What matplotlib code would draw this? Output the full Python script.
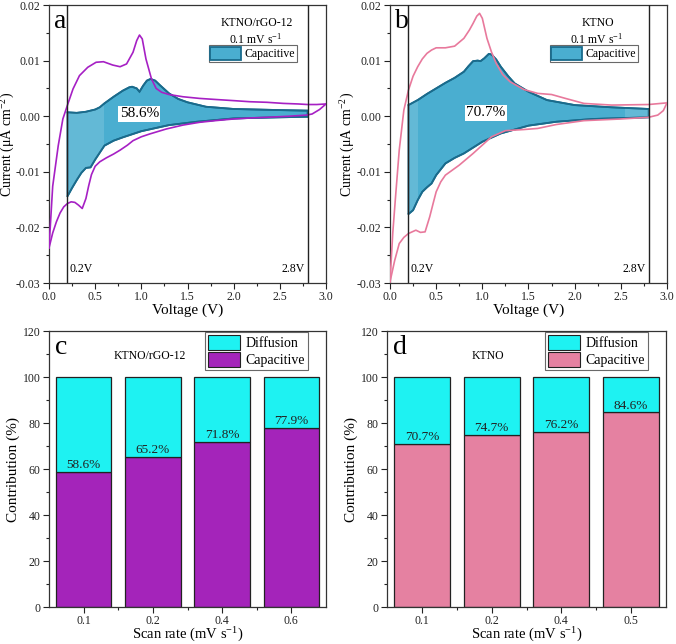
import numpy as np
import matplotlib
matplotlib.use("Agg")
import matplotlib.pyplot as plt
from matplotlib.patches import Patch, Polygon
from matplotlib.ticker import MultipleLocator

plt.rcParams['font.family'] = ['Liberation Serif', 'DejaVu Serif']
plt.rcParams['mathtext.fontset'] = 'custom'
plt.rcParams['mathtext.rm'] = 'Liberation Serif'
plt.rcParams['mathtext.it'] = 'Liberation Serif:italic'

# ---------------- Data: panel a (KTNO/rGO-12) ----------------
a_up_v = [0.0, 0.04, 0.1, 0.15, 0.2, 0.26, 0.33, 0.42, 0.51, 0.59, 0.69, 0.77, 0.84, 0.91, 0.95, 0.98, 1.01, 1.05, 1.11, 1.16, 1.22, 1.3, 1.45, 1.63, 1.81, 2.0, 2.18, 2.36, 2.54, 2.7, 2.8, 2.9, 3.0]
a_up_i = [-0.0237, -0.0126, -0.0053, -0.0005, 0.0020, 0.0049, 0.0073, 0.0088, 0.0097, 0.0098, 0.0092, 0.0089, 0.0094, 0.0115, 0.0136, 0.0146, 0.0139, 0.0103, 0.0067, 0.0050, 0.0043, 0.0039, 0.0035, 0.0032, 0.0030, 0.0028, 0.0026, 0.0025, 0.0023, 0.0022, 0.0021, 0.0021, 0.0022]
a_lo_v = [0.0, 0.04, 0.08, 0.12, 0.16, 0.2, 0.24, 0.28, 0.32, 0.36, 0.4, 0.43, 0.46, 0.5, 0.55, 0.62, 0.7, 0.77, 0.85, 0.91, 1.0, 1.09, 1.27, 1.45, 1.63, 1.8, 2.0, 2.2, 2.36, 2.6, 2.79, 2.85, 2.93, 3.0]
a_lo_i = [-0.0237, -0.0210, -0.0190, -0.0174, -0.0163, -0.0157, -0.0154, -0.0155, -0.0160, -0.0166, -0.0148, -0.0125, -0.0105, -0.0090, -0.0082, -0.0075, -0.0068, -0.0061, -0.0052, -0.0044, -0.0037, -0.0032, -0.0023, -0.0016, -0.0011, -0.0008, -0.0005, -0.0003, -0.0002, 0.0000, 0.0002, 0.0004, 0.0012, 0.0022]
a_cap_up_v = [0.2, 0.3, 0.4, 0.5, 0.55, 0.6, 0.7, 0.8, 0.87, 0.9, 0.95, 0.98, 1.02, 1.06, 1.1, 1.15, 1.2, 1.3, 1.4, 1.5, 1.7, 2.0, 2.5, 2.8]
a_cap_up_i = [0.0007, 0.0006, 0.0008, 0.0012, 0.0016, 0.0023, 0.0035, 0.0046, 0.0052, 0.0053, 0.0050, 0.0044, 0.0055, 0.0064, 0.0067, 0.0064, 0.0056, 0.0041, 0.0031, 0.0025, 0.0017, 0.0013, 0.0011, 0.0010]
a_cap_lo_v = [0.2, 0.25, 0.3, 0.35, 0.4, 0.45, 0.5, 0.6, 0.7, 0.8, 1.0, 1.3, 1.6, 2.0, 2.5, 2.8]
a_cap_lo_i = [-0.0144, -0.0129, -0.0115, -0.0102, -0.0093, -0.0092, -0.0078, -0.0053, -0.0044, -0.0038, -0.0027, -0.0016, -0.0010, -0.0004, -0.0002, -0.0001]

# ---------------- Data: panel b (KTNO) ----------------
b_up_v = [0.0, 0.03, 0.06, 0.1, 0.15, 0.2, 0.25, 0.3, 0.35, 0.4, 0.45, 0.5, 0.6, 0.7, 0.8, 0.86, 0.9, 0.94, 0.97, 1.0, 1.05, 1.1, 1.15, 1.22, 1.3, 1.45, 1.6, 1.75, 1.9, 2.1, 2.4, 2.8, 3.0]
b_up_i = [-0.0298, -0.0210, -0.0145, -0.0061, 0.0011, 0.0047, 0.0072, 0.0089, 0.0103, 0.0113, 0.0119, 0.0123, 0.0123, 0.0126, 0.0140, 0.0155, 0.0167, 0.0180, 0.0185, 0.0176, 0.0140, 0.0115, 0.0095, 0.0075, 0.0062, 0.0048, 0.0041, 0.0039, 0.0032, 0.0023, 0.0020, 0.0021, 0.0024]
b_lo_v = [0.0, 0.05, 0.1, 0.15, 0.2, 0.28, 0.33, 0.38, 0.43, 0.47, 0.5, 0.55, 0.6, 0.75, 0.9, 1.0, 1.1, 1.25, 1.45, 1.6, 1.8, 2.1, 2.5, 2.8, 2.9, 2.96, 3.0]
b_lo_i = [-0.0298, -0.0260, -0.0229, -0.0218, -0.0211, -0.0205, -0.0209, -0.0208, -0.0181, -0.0155, -0.0136, -0.0118, -0.0106, -0.0088, -0.0067, -0.0052, -0.0037, -0.0026, -0.0024, -0.0022, -0.0015, -0.0008, -0.0005, -0.0002, 0.0002, 0.0010, 0.0024]
b_cap_up_v = [0.2, 0.3, 0.4, 0.5, 0.6, 0.7, 0.8, 0.85, 0.9, 0.95, 0.98, 1.02, 1.07, 1.1, 1.15, 1.2, 1.28, 1.35, 1.5, 1.7, 2.0, 2.4, 2.8]
b_cap_up_i = [0.0020, 0.0029, 0.0040, 0.0050, 0.0060, 0.0069, 0.0080, 0.0090, 0.0099, 0.0100, 0.0099, 0.0104, 0.0112, 0.0111, 0.0102, 0.0089, 0.0072, 0.0059, 0.0044, 0.0029, 0.0020, 0.0016, 0.0013]
b_cap_lo_v = [0.2, 0.25, 0.3, 0.35, 0.4, 0.45, 0.5, 0.6, 0.7, 0.8, 1.0, 1.2, 1.5, 1.8, 2.2, 2.8]
b_cap_lo_i = [-0.0176, -0.0169, -0.0151, -0.0136, -0.0128, -0.0121, -0.0106, -0.0085, -0.0075, -0.0067, -0.0046, -0.0031, -0.0017, -0.0010, -0.0005, -0.0002]

# ---------------- Data: bar panels ----------------
c_rates = ['0.1', '0.2', '0.4', '0.6']
c_cap = [58.6, 65.2, 71.8, 77.9]
d_rates = ['0.1', '0.2', '0.4', '0.5']
d_cap = [70.7, 74.7, 76.2, 84.6]

W, H = 676, 644
fig = plt.figure(figsize=(W / 100, H / 100), dpi=100)

def px_axes(l, t, r, b):
    return fig.add_axes([l / W, 1 - b / H, (r - l) / W, (b - t) / H])

ax_a = px_axes(49, 5, 326, 283)
ax_b = px_axes(390, 5, 667, 283)
ax_c = px_axes(49, 331, 326, 607)
ax_d = px_axes(387, 331, 666, 607)

FILL = '#4aaed0'
EDGE = '#1a6b8c'
SPINE = '#333333'

def style_axes(ax):
    for s in ax.spines.values():
        s.set_color(SPINE)
        s.set_linewidth(0.9)
    ax.tick_params(which='both', direction='out', top=False, right=False,
                   labelsize=8.5, colors='#222222', width=0.8, pad=2)
    ax.tick_params(which='major', length=4)
    ax.tick_params(which='minor', length=2)

def cv_panel(ax, uv, ui, lv, li, cuv, cui, clv, cli, color, letter, sample, pct, pct_xy, light_spans, ylab_x):
    style_axes(ax)
    verts = list(zip(cuv, cui)) + list(zip(clv[::-1], cli[::-1]))
    poly = Polygon(verts, closed=True, facecolor=FILL, edgecolor=EDGE, lw=1.3, zorder=2)
    ax.add_patch(poly)
    for (x0, x1) in light_spans:
        sp = ax.axvspan(x0, x1, color='white', alpha=0.14, lw=0, zorder=2.5)
        sp.set_clip_path(poly)
    ax.plot(cuv, cui, color=EDGE, lw=1.3, zorder=3)
    ax.plot(clv, cli, color=EDGE, lw=1.3, zorder=3)
    ax.plot(uv, ui, color=color, lw=1.2, zorder=4)
    ax.plot(lv, li, color=color, lw=1.2, zorder=4)
    ax.axvline(0.2, color='#222222', lw=1.0, zorder=5)
    ax.axvline(2.8, color='#222222', lw=1.0, zorder=5)
    ax.set_xlim(0, 3.0)
    ax.set_ylim(-0.03, 0.02)
    ax.xaxis.set_minor_locator(MultipleLocator(0.25))
    ax.yaxis.set_minor_locator(MultipleLocator(0.005))
    ax.set_yticks([-0.03, -0.02, -0.01, 0.0, 0.01, 0.02])
    ax.set_yticklabels(['-0.03', '-0.02', '-0.01', '0.00', '0.01', '0.02'])
    ax.set_xticks([0, 0.5, 1.0, 1.5, 2.0, 2.5, 3.0])
    ax.set_xticklabels(['0.0', '0.5', '1.0', '1.5', '2.0', '2.5', '3.0'])
    ax.set_xlabel('Voltage (V)', fontsize=11, labelpad=0)
    ax.set_ylabel(r'Current ($\mathregular{\mu}$A cm$^{\mathregular{-2}}$)', fontsize=10)
    ax.yaxis.set_label_coords(ylab_x, 0.5)
    ax.text(0.018, 0.985, letter, transform=ax.transAxes, fontsize=20, va='top', ha='left', zorder=6)
    ax.text(0.75, 0.935, sample, transform=ax.transAxes, fontsize=8.5, ha='center', va='center')
    ax.text(0.745, 0.875, r'0.1 mV s$^{\mathregular{-1}}$', transform=ax.transAxes, fontsize=8.5, ha='center', va='center')
    ax.text(pct_xy[0], pct_xy[1], pct, fontsize=11, ha='center', va='center', zorder=6,
            bbox=dict(facecolor='white', edgecolor='none', pad=1.0))
    ax.text(0.225, -0.0274, '0.2V', fontsize=8.5, ha='left', va='center')
    ax.text(2.765, -0.0274, '2.8V', fontsize=8.5, ha='right', va='center')
    h = Patch(facecolor=FILL, edgecolor=EDGE, lw=1.3)
    leg = ax.legend([h], ['Capacitive'], loc='upper right', bbox_to_anchor=(0.895, 0.855),
                    fontsize=8.5, frameon=True, fancybox=False, edgecolor='#444444',
                    handlelength=2.6, handleheight=1.3, borderpad=0.15, handletextpad=0.3,
                    borderaxespad=0)
    leg.get_frame().set_linewidth(0.8)

cv_panel(ax_a, a_up_v, a_up_i, a_lo_v, a_lo_i, a_cap_up_v, a_cap_up_i, a_cap_lo_v, a_cap_lo_i,
         '#a620c4', 'a', 'KTNO/rGO-12', '58.6%', (0.98, 0.0004), [(0.2, 0.6)], -0.115)
cv_panel(ax_b, b_up_v, b_up_i, b_lo_v, b_lo_i, b_cap_up_v, b_cap_up_i, b_cap_lo_v, b_cap_lo_i,
         '#e8799c', 'b', 'KTNO', '70.7%', (1.04, 0.0006), [(0.2, 0.3), (2.55, 2.8)], -0.118)

CYAN = '#1ef2f2'

def bar_panel(ax, rates, cap, capcolor, letter, sample, sample_x):
    style_axes(ax)
    x = np.arange(len(rates))
    diff = [100 - c for c in cap]
    ax.bar(x, cap, width=0.8, color=capcolor, edgecolor='#222222', lw=0.9, zorder=2)
    ax.bar(x, diff, bottom=cap, width=0.8, color=CYAN, edgecolor='#222222', lw=0.9, zorder=2)
    for xi, c in zip(x, cap):
        ax.text(xi, c + 0.4, f'{c:.1f}%', ha='center', va='bottom', fontsize=9.5, color='#222222', zorder=3)
    ax.set_xlim(-0.5, 3.5)
    ax.set_ylim(0, 120)
    ax.set_xticks(x)
    ax.set_xticklabels(rates)
    ax.set_xticks(x[:-1] + 0.5, minor=True)
    ax.yaxis.set_major_locator(MultipleLocator(20))
    ax.yaxis.set_minor_locator(MultipleLocator(10))
    ax.set_xlabel(r'Scan rate (mV s$^{\mathregular{-1}}$)', fontsize=10.5)
    ax.xaxis.set_label_coords(0.5, -0.068)
    ax.set_ylabel('Contribution (%)', fontsize=11, labelpad=2)
    ax.text(0.02, 0.985, letter, transform=ax.transAxes, fontsize=20, va='top', ha='left')
    ax.text(sample_x, 109, sample, fontsize=8.5, ha='center', va='center')
    handles = [Patch(facecolor=CYAN, edgecolor='#222222', lw=0.8),
               Patch(facecolor=capcolor, edgecolor='#222222', lw=0.8)]
    leg = ax.legend(handles, ['Diffusion', 'Capacitive'], loc='upper right',
                    bbox_to_anchor=(0.935, 0.995), fontsize=10, frameon=True, fancybox=False,
                    edgecolor='#444444', handlelength=2.3, handleheight=1.3, borderpad=0.2,
                    handletextpad=0.4, labelspacing=0.1, borderaxespad=0)
    leg.get_frame().set_linewidth(0.8)

bar_panel(ax_c, c_rates, c_cap, '#a424ba', 'c', 'KTNO/rGO-12', 0.95)
bar_panel(ax_d, d_rates, d_cap, '#e581a1', 'd', 'KTNO', 0.95)

fig.savefig('out.png', dpi=100)
